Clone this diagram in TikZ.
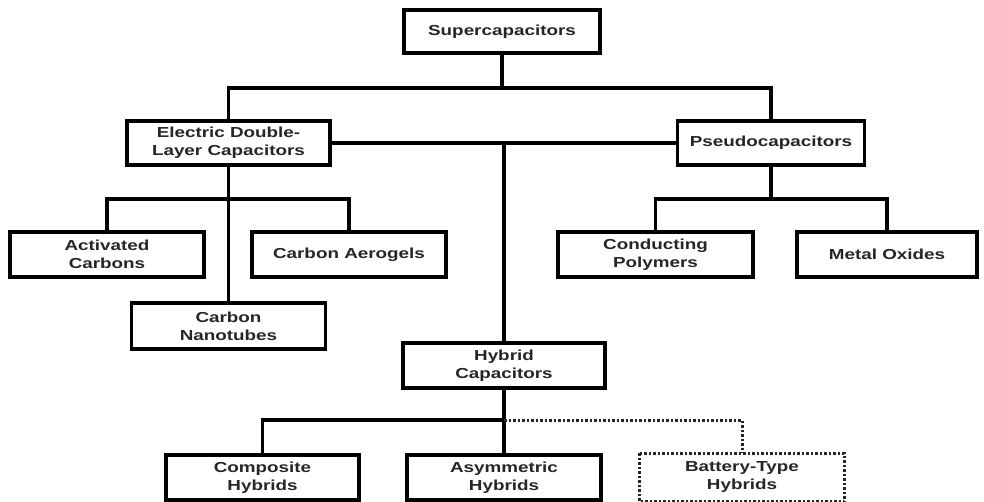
\documentclass[tikz,border=0pt]{standalone}
\usepackage{fontspec}
\setmainfont{Liberation Sans}[FakeStretch=1.3]
\begin{document}
\begin{tikzpicture}[x=1pt,y=-1pt,
  box/.style={draw=black,line width=3.2pt,fill=white,align=center,inner sep=0pt,
    font=\fontsize{14.5}{18}\selectfont\bfseries,text=black!85},
  link/.style={line width=3.2pt,draw=black},
  dotlink/.style={line width=3pt,draw=black!85,dash pattern=on 2.5pt off 2pt}]
\useasboundingbox (0,0) rectangle (984,502);
\node[box,minimum width=196pt,minimum height=43pt] (sup) at (502,31.5) {Supercapacitors};
\node[box,minimum width=203pt,minimum height=44pt] (edlc) at (228.5,143) {Electric Double-\\Layer Capacitors};
\node[box,minimum width=187pt,minimum height=44pt] (pseudo) at (771,143) {Pseudocapacitors};
\node[box,minimum width=194pt,minimum height=45pt] (ac) at (107,254.5) {Activated\\Carbons};
\node[box,minimum width=194pt,minimum height=45pt] (ca) at (349,254.5) {Carbon Aerogels};
\node[box,minimum width=194pt,minimum height=46pt] (cn) at (228.5,326) {Carbon\\Nanotubes};
\node[box,minimum width=195pt,minimum height=45pt] (cp) at (655.5,254.5) {Conducting\\Polymers};
\node[box,minimum width=180pt,minimum height=45pt] (mo) at (887,254.5) {Metal Oxides};
\node[box,minimum width=202pt,minimum height=45pt] (hc) at (504,365.5) {Hybrid\\Capacitors};
\node[box,minimum width=193pt,minimum height=45pt] (ch) at (262.5,477.5) {Composite\\Hybrids};
\node[box,minimum width=194pt,minimum height=45pt] (ah) at (504,477.5) {Asymmetric\\Hybrids};
\node[box,draw=none,minimum width=202pt,minimum height=45pt] (bt) at (742,477.5) {Battery-Type\\Hybrids};
\draw[dotlink] (bt.north west) rectangle (bt.south east);
\coordinate (bus1) at (502,88);
\coordinate (j2) at (504,143);
\coordinate (bus2) at (228.5,199);
\coordinate (bus3) at (771,199);
\coordinate (bus4) at (504,420);
\draw[link] (sup.south) -- (bus1);
\draw[link] (edlc.north) |- (bus1) -| (pseudo.north);
\draw[link] (edlc.east) -- (pseudo.west);
\draw[link] (j2) -- (hc.north);
\draw[link] (edlc.south) -- (cn.north);
\draw[link] (ac.north) |- (bus2) -| (ca.north);
\draw[link] (pseudo.south) -- (bus3);
\draw[link] (cp.north) |- (bus3) -| (mo.north);
\draw[link] (hc.south) -- (ah.north);
\draw[link] (ch.north) |- (bus4);
\draw[dotlink] (bus4) -| (bt.north);
\end{tikzpicture}
\end{document}
